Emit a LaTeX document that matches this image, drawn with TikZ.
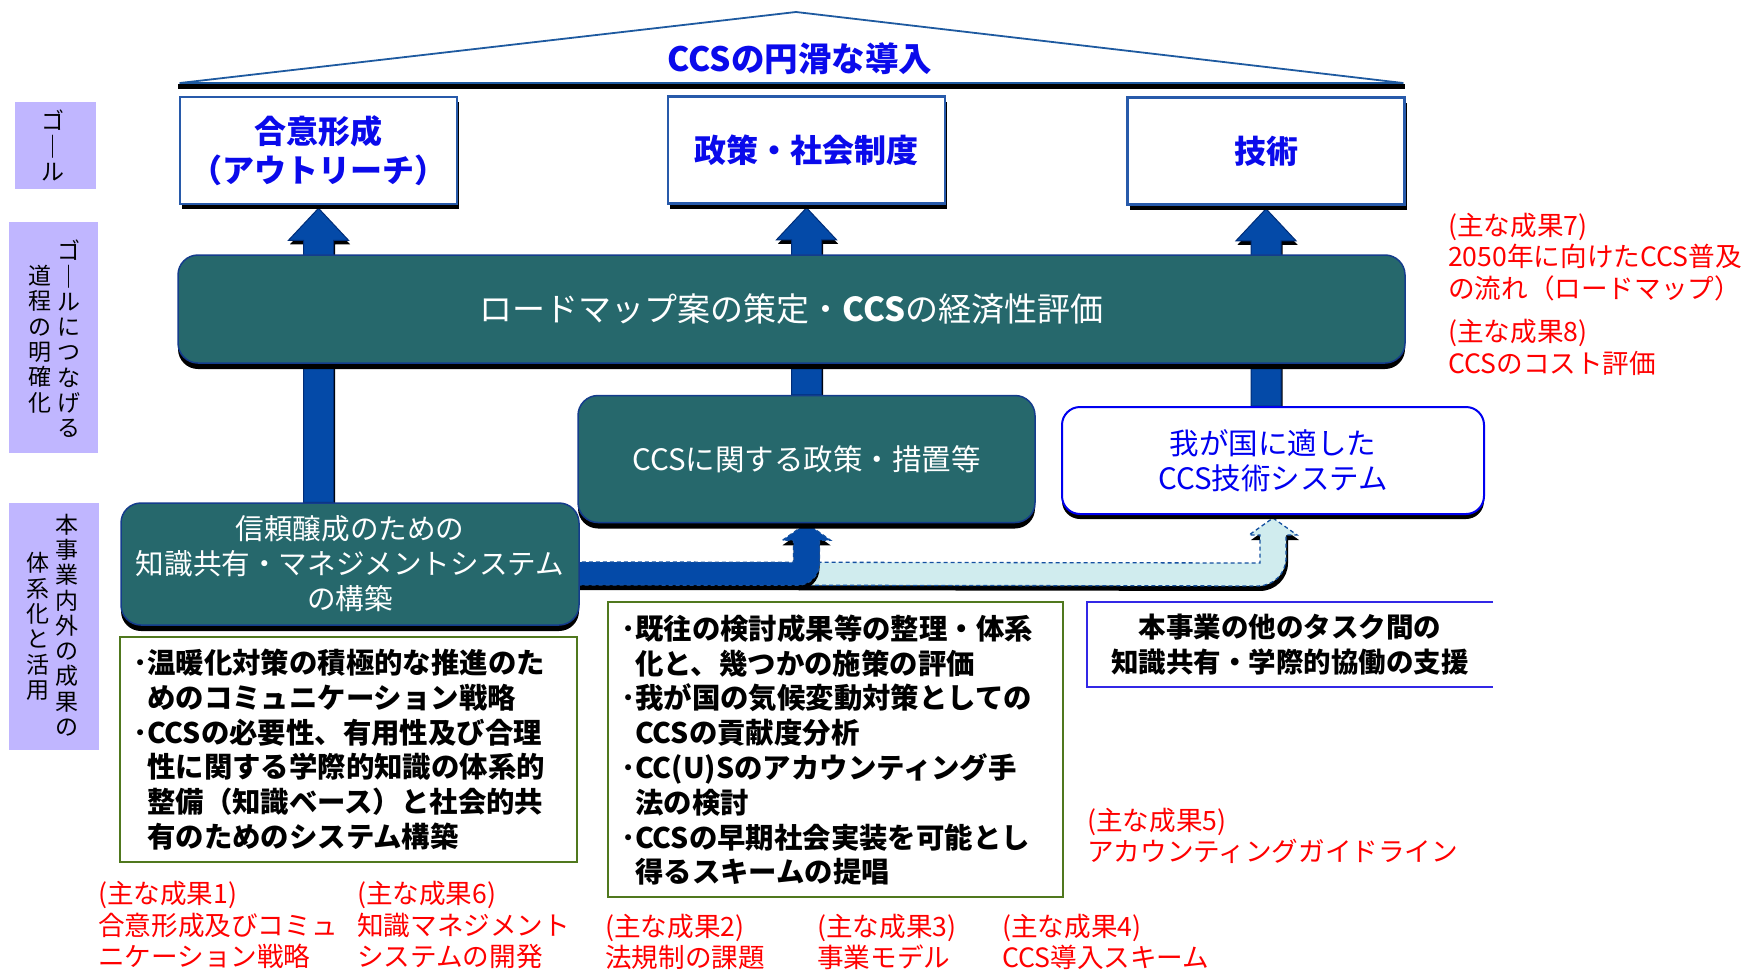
\documentclass[tikz,border=0pt]{standalone}
\usepackage{fontspec}
\setmainfont{Noto Sans CJK JP}
\usetikzlibrary{shadows,calc}
\pgfdeclarelayer{bg}
\pgfsetlayers{bg,main}
\definecolor{tealfill}{RGB}{38,104,108}
\definecolor{tealline}{RGB}{20,60,140}
\definecolor{arrowblue}{RGB}{4,74,168}
\definecolor{arrowedge}{RGB}{0,45,120}
\definecolor{lightband}{RGB}{208,236,238}
\definecolor{bandline}{RGB}{20,80,160}
\definecolor{goaltext}{RGB}{10,10,235}
\definecolor{goalline}{RGB}{40,90,170}
\definecolor{roofline}{RGB}{30,90,160}
\definecolor{purpfill}{RGB}{192,182,255}
\definecolor{greenline}{RGB}{80,120,30}
\definecolor{openline}{RGB}{50,40,230}
\definecolor{redtext}{RGB}{255,0,0}
\definecolor{sysblue}{RGB}{0,0,240}
\newcommand\bul{\makebox[14pt][l]{･}}
\newcommand\ind{\hspace*{14pt}}
\begin{document}
\begin{tikzpicture}[x=1pt,y=-1pt,
  goal/.style={draw=goalline, line width=2.5pt, fill=white,
    general shadow={fill=black, shadow xshift=2pt, shadow yshift=-5pt},
    font=\fontsize{32}{39}\selectfont\bfseries, text=goaltext, align=center,
    inner sep=0pt, minimum width=277pt, minimum height=107pt},
  tealbox/.style={draw=tealline, line width=1.5pt, fill=tealfill, rounded corners=20pt,
    general shadow={fill=black, shadow xshift=0pt, shadow yshift=-6pt},
    text=white, align=center, inner sep=0pt, font=\fontsize{28.6}{35}\selectfont},
  sysbox/.style={draw=sysblue, line width=2pt, fill=white, rounded corners=18pt,
    general shadow={fill=black, shadow xshift=0pt, shadow yshift=-5pt},
    text=sysblue, align=center, inner sep=0pt, font=\fontsize{29.5}{35}\selectfont},
  purp/.style={fill=purpfill, inner sep=0pt},
  vtext/.style={font=\fontsize{23}{25.3}\selectfont, align=center, inner sep=0pt},
  gbox/.style={draw=greenline, line width=1.5pt, fill=white, inner sep=0pt},
  gtext/.style={font=\fontsize{28.4}{34.8}\selectfont\bfseries, align=left, inner sep=0pt, anchor=west},
  redtxt/.style={font=\fontsize{26.6}{31.5}\selectfont, text=redtext, align=left, inner sep=0pt, anchor=west},
  uparrow/.style={fill=arrowblue, draw=arrowedge, line width=1pt,
    general shadow={fill=black, shadow xshift=1.5pt, shadow yshift=-4pt}},
  banddark/.style={fill=arrowblue, draw=bandline, line width=1.3pt, dash pattern=on 4pt off 3pt,
    general shadow={fill=black, shadow xshift=0pt, shadow yshift=-5pt}},
  bandlight/.style={fill=lightband, draw=bandline, line width=1.3pt, dash pattern=on 4pt off 3pt,
    general shadow={fill=black, shadow xshift=2pt, shadow yshift=-5pt}}
]
\useasboundingbox (0,0) rectangle (1760,969);

% roof
\coordinate (roofL) at (180,83);
\coordinate (roofT) at (796,12);
\coordinate (roofR) at (1403,83);
\draw[black, line width=4.5pt] (roofL) ++(-2,3.5) -- ($(roofR)+(2,3.5)$);
\draw[roofline, line width=1.8pt, line join=round] (roofL) -- (roofT) -- (roofR) -- cycle;
\node[font=\fontsize{33.5}{38}\selectfont\bfseries, text=goaltext, inner sep=0pt] (roof) at (800,59) {CCSの円滑な導入};

% goal boxes
\node[goal] (g1) at (318.5,150.5) {合意形成\\（アウトリーチ）};
\node[goal] (g2) at (806.5,150) {政策・社会制度};
\node[goal] (g3) at (1266,151) {技術};

% middle boxes
\node[tealbox, minimum width=1227pt, minimum height=108pt, font=\fontsize{33}{38}\selectfont] (road) at (791.5,309) {ロードマップ案の策定・\textbf{CCS}の経済性評価};
\node[tealbox, minimum width=457pt, minimum height=127pt, font=\fontsize{29.5}{35}\selectfont] (policy) at (806.5,459) {CCSに関する政策・措置等};
\node[sysbox, minimum width=422pt, minimum height=107pt] (techsys) at (1273,460.5) {我が国に適した\\CCS技術システム};
\node[tealbox, minimum width=458pt, minimum height=122pt] (trust) at (350,564) {信頼醸成のための\\知識共有・マネジメントシステム\\の構築};

% green boxes
\node[gbox, minimum width=457pt, minimum height=225pt] (gr1) at (348.5,749.5) {};
\node[gtext] (gr1t) at (133,749.5) {\bul 温暖化対策の積極的な推進のた\\\ind めのコミュニケーション戦略\\\bul CCSの必要性、有用性及び合理\\\ind 性に関する学際的知識の体系的\\\ind 整備（知識ベース）と社会的共\\\ind 有のためのシステム構築};
\node[gbox, minimum width=455pt, minimum height=295pt] (gr2) at (835.5,749.5) {};
\node[gtext] (gr2t) at (621,750) {\bul 既往の検討成果等の整理・体系\\\ind 化と、幾つかの施策の評価\\\bul 我が国の気候変動対策としての\\\ind CCSの貢献度分析\\\bul CC(U)Sのアカウンティング手\\\ind 法の検討\\\bul CCSの早期社会実装を可能とし\\\ind 得るスキームの提唱};

% open box
\node[inner sep=0pt, minimum width=406pt, minimum height=85pt, font=\fontsize{27.5}{35}\selectfont\bfseries, align=center] (open) at (1290,644.5) {本事業の他のタスク間の\\知識共有・学際的協働の支援};
\draw[openline, line width=2pt] (open.north east) -- (open.north west) -- (open.south west) -- (open.south east);

% purple labels
\node[purp, minimum width=81pt, minimum height=87pt] (p1) at (55.5,145.5) {};
\node[vtext] (p1t) at (53,145.5) {ゴ\\｜\\ル};
\node[purp, minimum width=89pt, minimum height=231pt] (p2) at (53.5,337.5) {};
\node[vtext] (p2a) at (69,339) {ゴ\\｜\\ル\\に\\つ\\な\\げ\\る};
\node[vtext] (p2b) at (40,339) {道\\程\\の\\明\\確\\化};
\node[purp, minimum width=90pt, minimum height=247pt] (p3) at (54,626.5) {};
\node[vtext] (p3a) at (67,625) {本\\事\\業\\内\\外\\の\\成\\果\\の};
\node[vtext] (p3b) at (38,626.5) {体\\系\\化\\と\\活\\用};

% red notes
\node[redtxt] (r7) at (1448,257) {(主な成果7)\\2050年に向けたCCS普及\\の流れ（ロードマップ）};
\node[redtxt] (r8) at (1448,347.5) {(主な成果8)\\CCSのコスト評価};
\node[redtxt] (r5) at (1087,836) {(主な成果5)\\アカウンティングガイドライン};
\node[redtxt] (r1) at (98,925) {(主な成果1)\\合意形成及びコミュ\\ニケーション戦略};
\node[redtxt] (r6) at (357,925) {(主な成果6)\\知識マネジメント\\システムの開発};
\node[redtxt] (r2) at (605,942) {(主な成果2)\\法規制の課題};
\node[redtxt] (r3) at (817,942) {(主な成果3)\\事業モデル};
\node[redtxt] (r4) at (1002,942) {(主な成果4)\\CCS導入スキーム};

% arrows behind
\begin{pgfonlayer}{bg}
\path[uparrow] let \p1=(g1.south), \p2=(trust.north) in
  (\x1-15pt,\y2) -- (\x1-15pt,\y1-35pt) -- (\x1-30pt,\y1-35pt) -- (\x1,\y1-3pt)
  -- (\x1+30pt,\y1-35pt) -- (\x1+15pt,\y1-35pt) -- (\x1+15pt,\y2) -- cycle;
\path[uparrow] let \p1=(g2.south), \p2=(policy.north) in
  (\x1-15pt,\y2) -- (\x1-15pt,\y1-35pt) -- (\x1-30pt,\y1-35pt) -- (\x1,\y1-3pt)
  -- (\x1+30pt,\y1-35pt) -- (\x1+15pt,\y1-35pt) -- (\x1+15pt,\y2) -- cycle;
\path[uparrow] let \p1=(g3.south), \p2=(techsys.north) in
  (\x1-15pt,\y2) -- (\x1-15pt,\y1-35pt) -- (\x1-30pt,\y1-35pt) -- (\x1,\y1-3pt)
  -- (\x1+30pt,\y1-35pt) -- (\x1+15pt,\y1-35pt) -- (\x1+15pt,\y2) -- cycle;
% light band to technology system
\path[bandlight] ($(policy.south)+(-10,39)$) -- ($(techsys.south)+(-13,48)$)
  -- ($(techsys.south)+(-13,20)$) -- ($(techsys.south)+(-24,20)$) -- ($(techsys.south)+(0,3)$)
  -- ($(techsys.south)+(24,20)$) -- ($(techsys.south)+(13,20)$)
  [rounded corners=28pt] -- ($(techsys.south)+(13,71)$)
  [sharp corners] -- ($(policy.south)+(-10,62)$) -- cycle;
% dark band to policy
\path[banddark] ($(trust.east)+(-12,-2)$) -- ($(policy.south)+(-13,39)$)
  -- ($(policy.south)+(-13,17)$) -- ($(policy.south)+(-24,17)$) -- (policy.south)
  -- ($(policy.south)+(24,17)$) -- ($(policy.south)+(13,17)$)
  [rounded corners=22pt] -- ($(policy.south)+(13,62)$)
  [sharp corners] -- ($(trust.east)+(-12,21)$) -- cycle;
\end{pgfonlayer}
\end{tikzpicture}
\end{document}
